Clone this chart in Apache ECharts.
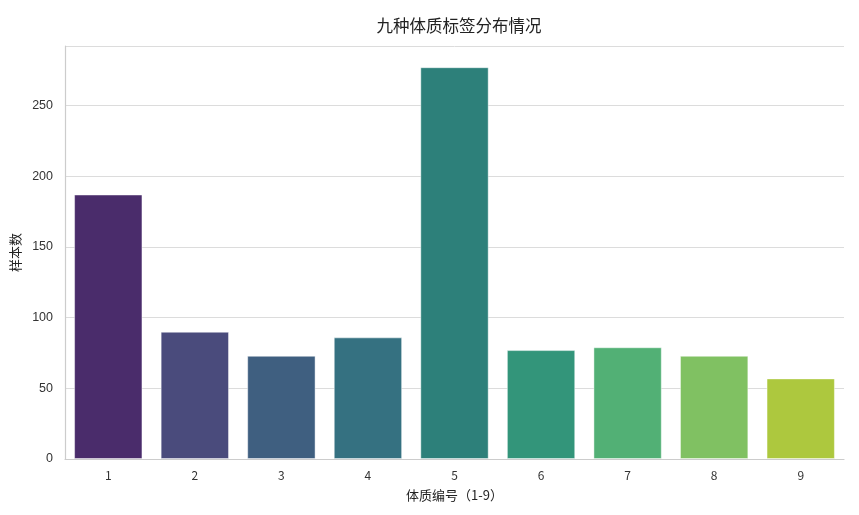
<!DOCTYPE html>
<html><head><meta charset="utf-8">
<script src="https://cdn.jsdelivr.net/npm/echarts@6/dist/echarts.min.js"></script>
<style>html,body{margin:0;padding:0;background:#fff}#c{width:859px;height:515px}</style>
</head><body><div id="c"></div>
<script>
const categories = ['1','2','3','4','5','6','7','8','9'];
const counts = [187, 90, 73, 86, 277, 77, 79, 73, 57];
const barColors = ['#4a2c6b','#4a4b7c','#3f5f80','#357181','#2d807a','#33957a','#52b075','#80c162','#adc83e'];
const yTicks = [0, 50, 100, 150, 200, 250];

const chart = echarts.init(document.getElementById('c'));
chart.setOption({
  animation: false,
  title: {
    text: '九种体质标签分布情况', left: 454, top: 12, textAlign: 'center',
    textStyle: { fontFamily: 'Noto Sans CJK SC', fontSize: 16.5, fontWeight: 'normal', color: '#222' }
  },
  grid: { left: 65, right: 15, top: 46, bottom: 56 },
  xAxis: {
    type: 'category', data: categories,
    name: '体质编号（1-9）', nameLocation: 'middle', nameGap: 30,
    nameTextStyle: { fontFamily: 'Noto Sans CJK SC', fontSize: 13, color: '#222' },
    axisLine: { lineStyle: { color: '#cccccc', width: 1.2 } },
    axisTick: { show: false },
    axisLabel: { fontFamily: 'Noto Sans CJK SC', fontSize: 12, color: '#333', margin: 10 }
  },
  yAxis: {
    type: 'value', min: 0, max: 292, interval: 50,
    name: '样本数', nameLocation: 'middle', nameGap: 34,
    nameTextStyle: { fontFamily: 'Noto Sans CJK SC', fontSize: 13, color: '#222' },
    axisLine: { show: true, lineStyle: { color: '#cccccc', width: 1.2 } },
    axisTick: { show: false },
    axisLabel: {
      fontFamily: 'Liberation Sans', fontSize: 12.5, color: '#333', margin: 12,
      formatter: v => yTicks.includes(v) ? String(v) : ''
    },
    splitLine: { lineStyle: { color: '#dcdcdc', width: 1 } }
  },
  series: [{
    type: 'bar', barCategoryGap: '21%',
    data: counts.map((v, i) => ({ value: v, itemStyle: { color: barColors[i] } })),
    itemStyle: { borderColor: 'rgba(255,255,255,0.45)', borderWidth: 1 }
  }]
});
</script></body></html>
